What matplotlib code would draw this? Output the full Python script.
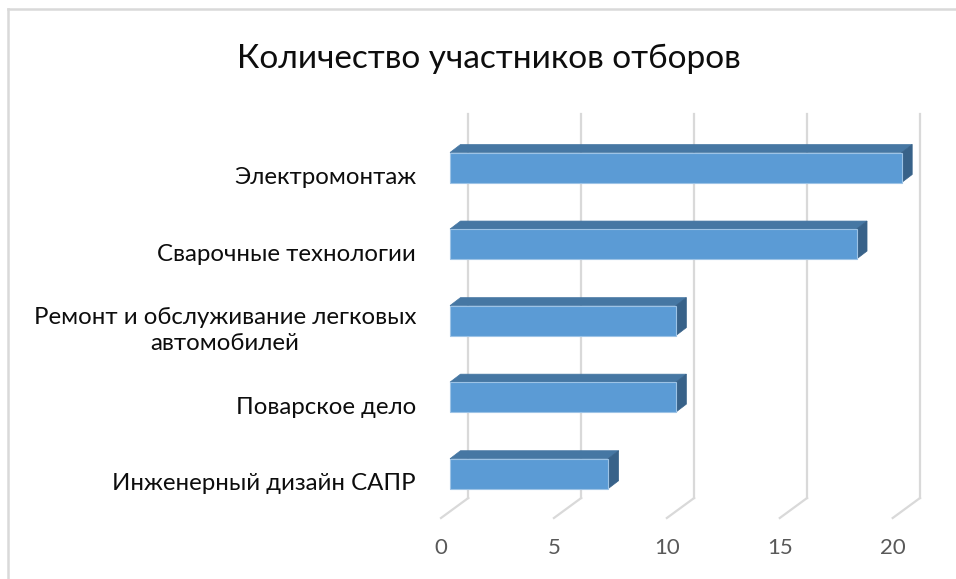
import matplotlib
matplotlib.use("Agg")
import matplotlib.pyplot as plt
from matplotlib.patches import Polygon, Rectangle
from matplotlib.lines import Line2D

# ---- data ----
categories = ["Инженерный дизайн САПР",
              "Поварское дело",
              "Ремонт и обслуживание легковых\nавтомобилей",
              "Сварочные технологии",
              "Электромонтаж"]
values = [7, 10, 10, 18, 20]
xticks = [0, 5, 10, 15, 20]
title = "Количество участников отборов"

FONT = ["Lato", "DejaVu Sans"]
plt.rcParams["font.family"] = FONT

W, H, DPI = 956, 579, 100
fig = plt.figure(figsize=(W / DPI, H / DPI), dpi=DPI)

# axes = front plane of the bars
ax_l, ax_r = 450, 901.7          # px for x=0 and x=20
ax_top, ax_bot = 114, 518        # px from top
ax = fig.add_axes([ax_l / W, 1 - ax_bot / H, (ax_r - ax_l) / W, (ax_bot - ax_top) / H])
XMIN, XMAX = 0, 20
c0_px, step_px = 473.7, 76.55    # pixel y of first category centre, spacing
YMIN = (c0_px - ax_bot) / step_px
YMAX = (c0_px - ax_top) / step_px
ax.set_xlim(XMIN, XMAX)
ax.set_ylim(YMIN, YMAX)
ax.axis("off")

pxx = (ax_r - ax_l) / (XMAX - XMIN)   # px per x unit
pxy = step_px                          # px per y unit

def dx(p):
    return p / pxx

def dy(p):
    return p / pxy

grid_c = "#D9D9D9"
# back wall gridlines and floor diagonals
back_off_x, back_y = dx(18.3), YMIN + dy(518 - 498)
front_off_x = dx(-9)
for t in xticks:
    ax.add_line(Line2D([t + back_off_x, t + back_off_x], [back_y, YMAX],
                       color=grid_c, lw=1.6, zorder=1, clip_on=False))
    ax.add_line(Line2D([t + back_off_x, t + front_off_x], [back_y, YMIN],
                       color=grid_c, lw=1.6, zorder=1, clip_on=False))
    ax.text(t + front_off_x, YMIN - dy(30), str(t), ha="center", va="center",
            fontsize=16, color="#595959")

# 3D bars
front_c, top_c, side_c = "#5B9BD5", "#4677A3", "#386289"
bh = dy(30)
bdx, bdy = dx(10.5), dy(8)
for i, (cat, v) in enumerate(zip(categories, values)):
    y0, y1 = i - bh / 2, i + bh / 2
    ax.add_patch(Polygon([(0, y1), (v, y1), (v + bdx, y1 + bdy), (bdx, y1 + bdy)],
                         closed=True, facecolor=top_c, edgecolor=top_c, lw=0.5,
                         zorder=3, clip_on=False))
    ax.add_patch(Polygon([(v, y0), (v, y1), (v + bdx, y1 + bdy), (v + bdx, y0 + bdy)],
                         closed=True, facecolor=side_c, edgecolor=side_c, lw=0.5,
                         zorder=3, clip_on=False))
    ax.add_patch(Rectangle((0, y0), v, bh, facecolor=front_c, edgecolor="#9DC3E6",
                           lw=0.8, zorder=4, clip_on=False))
    ax.text(-dx(450 - 416), i - dy(10), cat, ha="right", va="center",
            multialignment="center", fontsize=17.3, color="#0d0d0d",
            linespacing=1.3)

# title
fig.text(489 / W, 1 - 68 / H, title, ha="center", va="baseline",
         fontsize=24, color="#0d0d0d")

# chart frame (left and top edges visible)
fig.add_artist(Line2D([8 / W, 8 / W], [0, 1 - 9 / H], transform=fig.transFigure,
                      color=grid_c, lw=1.8))
fig.add_artist(Line2D([8 / W, 1], [1 - 9 / H, 1 - 9 / H], transform=fig.transFigure,
                      color=grid_c, lw=1.8))

fig.savefig("out.png", dpi=DPI, facecolor="white")
